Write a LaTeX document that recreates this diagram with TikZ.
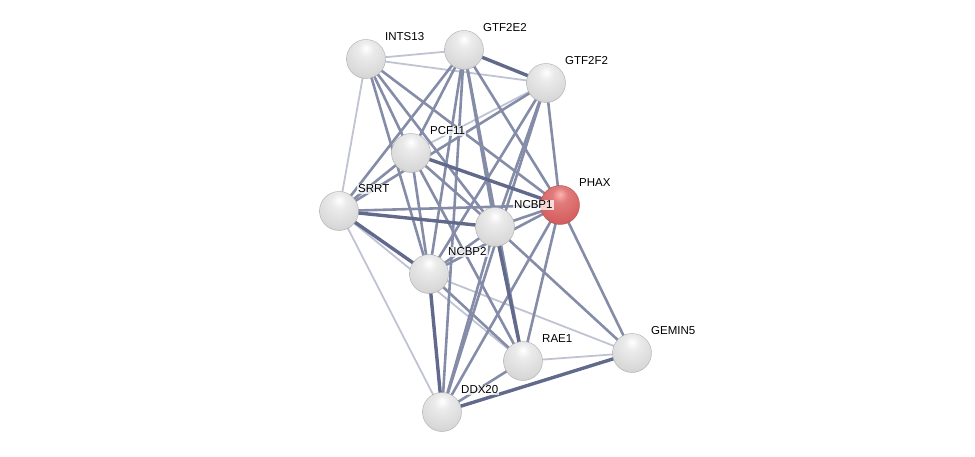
\documentclass[tikz,border=0pt]{standalone}
\usepackage{fontspec}
\setmainfont{Liberation Sans}
\usepackage{xcolor}
\usepackage{tikz}
\usetikzlibrary{backgrounds}
\definecolor{edgelight}{HTML}{BFC3D4}
\definecolor{edgemid}{HTML}{858CA8}
\definecolor{edgedark}{HTML}{626A8C}
\pgfdeclareradialshading{sphere}{\pgfpoint{0bp}{14bp}}{%
  color(0bp)=(white); color(10bp)=(white!92!black); color(30bp)=(white!85!black);
  color(50bp)=(white!70!black); color(64bp)=(white!45!black); color(100bp)=(white!45!black)}
\pgfdeclareradialshading{spherered}{\pgfpoint{0bp}{14bp}}{%
  color(0bp)=(white!70!red); color(10bp)=(red!45!white!88!black); color(30bp)=(red!55!white!84!black);
  color(50bp)=(red!60!white!66!black); color(64bp)=(red!55!black); color(100bp)=(red!55!black)}
\tikzset{
  ball/.style={circle, minimum size=39pt, inner sep=0pt, shading=sphere, draw=gray!65, line width=0.4pt},
  query/.style={ball, shading=spherered, draw=red!35!gray},
  lbl/.style={anchor=west, font=\fontsize{11.5}{13}\selectfont, fill=white, fill opacity=0.75, text opacity=1, inner sep=1pt},
  elight/.style={draw=edgelight, line width=1.8pt},
  emid/.style={draw=edgemid, line width=2.6pt},
  edark/.style={draw=edgedark, line width=3.4pt}
}

\begin{document}
\begin{tikzpicture}[x=1pt, y=-1pt]
  \useasboundingbox (0,0) rectangle (975,457);

  % proteins
  \node[ball] (ints13) at (366,59) {};
  \node[ball] (gtf2e2) at (464,50) {};
  \node[ball] (gtf2f2) at (546,83) {};
  \node[ball] (pcf11) at (411,153) {};
  \node[ball] (srrt) at (339,211) {};
  \node[query] (phax) at (560,205) {};
  \node[ball] (ncbp1) at (495,227) {};
  \node[ball] (ncbp2) at (429,274) {};
  \node[ball] (rae1) at (523,361) {};
  \node[ball] (gemin5) at (632,353) {};
  \node[ball] (ddx20) at (442,412) {};

  % labels
  \node[lbl] (ints13-l) at ([shift={(18,-22)}]ints13.center) {INTS13};
  \node[lbl] (gtf2e2-l) at ([shift={(18,-22)}]gtf2e2.center) {GTF2E2};
  \node[lbl] (gtf2f2-l) at ([shift={(18,-22)}]gtf2f2.center) {GTF2F2};
  \node[lbl] (pcf11-l) at ([shift={(18,-22)}]pcf11.center) {PCF11};
  \node[lbl] (srrt-l) at ([shift={(18,-22)}]srrt.center) {SRRT};
  \node[lbl] (phax-l) at ([shift={(18,-22)}]phax.center) {PHAX};
  \node[lbl] (ncbp1-l) at ([shift={(18,-22)}]ncbp1.center) {NCBP1};
  \node[lbl] (ncbp2-l) at ([shift={(18,-22)}]ncbp2.center) {NCBP2};
  \node[lbl] (rae1-l) at ([shift={(18,-22)}]rae1.center) {RAE1};
  \node[lbl] (gemin5-l) at ([shift={(18,-22)}]gemin5.center) {GEMIN5};
  \node[lbl] (ddx20-l) at ([shift={(18,-22)}]ddx20.center) {DDX20};

  % interactions
  \begin{pgfonlayer}{background}
    \draw[elight] (ints13.center) -- (gtf2e2.center);
    \draw[elight] (ints13.center) -- (gtf2f2.center);
    \draw[elight] (ints13.center) -- (srrt.center);
    \draw[elight] (srrt.center) -- (ddx20.center);
    \draw[elight] (gtf2f2.center) -- (pcf11.center);
    \draw[elight] (srrt.center) -- (rae1.center);
    \draw[elight] (ncbp2.center) -- (gemin5.center);
    \draw[elight] (rae1.center) -- (gemin5.center);

    \draw[emid] (ints13.center) -- (pcf11.center);
    \draw[emid] (ints13.center) -- (ncbp1.center);
    \draw[emid] (ints13.center) -- (ncbp2.center);
    \draw[emid] (ints13.center) -- (phax.center);
    \draw[emid] (gtf2e2.center) -- (srrt.center);
    \draw[emid] (gtf2e2.center) -- (pcf11.center);
    \draw[emid] (gtf2e2.center) -- (ncbp2.center);
    \draw[emid] (gtf2e2.center) -- (ddx20.center);
    \draw[emid] (gtf2e2.center) -- (ncbp1.center);
    \draw[emid] (gtf2e2.center) -- (rae1.center);
    \draw[emid] (gtf2e2.center) -- (phax.center);
    \draw[emid] (gtf2f2.center) -- (srrt.center);
    \draw[emid] (gtf2f2.center) -- (ncbp2.center);
    \draw[emid] (gtf2f2.center) -- (ddx20.center);
    \draw[emid] (gtf2f2.center) -- (ncbp1.center);
    \draw[emid] (gtf2f2.center) -- (phax.center);
    \draw[emid] (pcf11.center) -- (srrt.center);
    \draw[emid] (pcf11.center) -- (ncbp1.center);
    \draw[emid] (pcf11.center) -- (ncbp2.center);
    \draw[emid] (pcf11.center) -- (rae1.center);
    \draw[emid] (srrt.center) -- (phax.center);
    \draw[emid] (ncbp1.center) -- (phax.center);
    \draw[emid] (ncbp1.center) -- (ncbp2.center);
    \draw[emid] (ncbp1.center) -- (ddx20.center);
    \draw[emid] (ncbp1.center) -- (gemin5.center);
    \draw[emid] (ncbp2.center) -- (phax.center);
    \draw[emid] (ncbp2.center) -- (rae1.center);
    \draw[emid] (phax.center) -- (rae1.center);
    \draw[emid] (phax.center) -- (ddx20.center);
    \draw[emid] (phax.center) -- (gemin5.center);
    \draw[emid] (rae1.center) -- (ddx20.center);

    \draw[edark] (gtf2e2.center) -- (gtf2f2.center);
    \draw[edark] (pcf11.center) -- (phax.center);
    \draw[edark] (srrt.center) -- (ncbp1.center);
    \draw[edark] (srrt.center) -- (ncbp2.center);
    \draw[edark] (ncbp1.center) -- (rae1.center);
    \draw[edark] (ncbp2.center) -- (ddx20.center);
    \draw[edark] (ddx20.center) -- (gemin5.center);
  \end{pgfonlayer}
\end{tikzpicture}
\end{document}
